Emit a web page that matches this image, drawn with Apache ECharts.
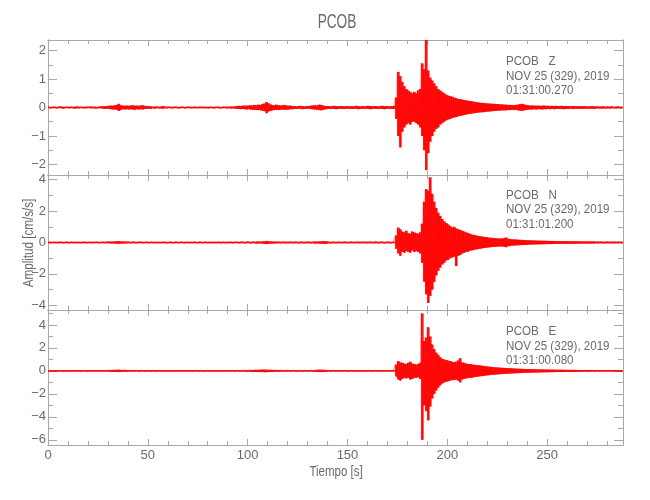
<!DOCTYPE html>
<html><head><meta charset="utf-8">
<script src="https://cdn.jsdelivr.net/npm/echarts@6/dist/echarts.min.js"></script>
<style>html,body{margin:0;padding:0;background:#fff}#c{width:650px;height:500px}</style>
</head><body><div id="c"></div>
<script>
// Time bins: 1 s each, starting at 0 s. For each bin: max (up) and min (down) of the trace.
const binStart = 0;
const binWidth = 1;
const xRange = [0, 288];

// Z component (cm/s/s)
const zUp = [
.03,.02,.03,.03,.02,.03,.04,.03,.02,.03,
.03,.03,.02,.03,.04,.03,.03,.02,.03,.03,
.03,.04,.03,.03,.02,.03,.04,.05,.04,.05,
.06,.07,.06,.08,.09,.13,.08,.07,.06,.07,
.06,.07,.08,.06,.07,.06,.07,.08,.06,.05,
.05,.04,.03,.03,.04,.03,.03,.05,.04,.03,
.03,.02,.03,.03,.03,.02,.03,.03,.02,.03,
.03,.03,.02,.03,.03,.02,.03,.03,.03,.02,
.03,.03,.02,.03,.03,.03,.02,.03,.03,.03,
.03,.03,.04,.03,.05,.06,.05,.06,.07,.06,
.07,.08,.07,.09,.08,.10,.09,.12,.14,.19,
.15,.11,.09,.08,.10,.08,.07,.08,.09,.07,
.06,.07,.05,.05,.04,.05,.06,.05,.04,.05,
.05,.06,.07,.08,.07,.09,.10,.08,.06,.05,
.05,.04,.05,.06,.05,.04,.05,.05,.04,.05,
.05,.04,.05,.04,.06,.05,.04,.05,.04,.05,
.06,.05,.04,.05,.05,.04,.05,.06,.05,.05,
.05,.04,.05,.06,.35,1.25,1.1,.9,.75,.65,
.6,.55,.5,.55,.5,.6,.65,1.55,1.35,2.45,
1.3,1.05,.95,.85,.75,.65,.6,.55,.5,.45,
.42,.4,.38,.35,.33,.3,.3,.28,.26,.25,
.24,.22,.22,.2,.19,.18,.17,.16,.16,.15,
.14,.14,.13,.13,.12,.12,.11,.11,.1,.1,
.09,.09,.09,.08,.09,.1,.12,.13,.11,.09,
.08,.07,.07,.07,.06,.07,.06,.06,.07,.06,
.06,.05,.06,.05,.06,.05,.05,.06,.05,.05,
.05,.05,.04,.05,.05,.04,.05,.04,.05,.04,
.04,.04,.05,.04,.04,.04,.03,.04,.04,.03,
.04,.03,.04,.03,.03,.04,.03,.03];
const zDown = [
-.03,-.03,-.02,-.03,-.03,-.02,-.03,-.04,-.03,-.02,
-.03,-.02,-.03,-.04,-.03,-.03,-.02,-.03,-.03,-.03,
-.02,-.03,-.03,-.04,-.03,-.03,-.03,-.04,-.05,-.04,
-.05,-.06,-.07,-.07,-.08,-.12,-.09,-.06,-.07,-.06,
-.07,-.06,-.07,-.08,-.06,-.07,-.06,-.07,-.05,-.05,
-.04,-.05,-.03,-.04,-.03,-.03,-.04,-.04,-.03,-.03,
-.02,-.03,-.03,-.02,-.03,-.03,-.03,-.02,-.03,-.03,
-.02,-.03,-.03,-.03,-.02,-.03,-.03,-.02,-.03,-.03,
-.03,-.02,-.03,-.03,-.02,-.03,-.03,-.03,-.02,-.03,
-.03,-.04,-.03,-.04,-.05,-.05,-.06,-.05,-.06,-.07,
-.06,-.07,-.08,-.08,-.09,-.09,-.1,-.11,-.13,-.2,
-.14,-.12,-.1,-.09,-.08,-.09,-.08,-.07,-.08,-.08,
-.07,-.06,-.06,-.05,-.05,-.04,-.05,-.06,-.05,-.04,
-.05,-.05,-.06,-.07,-.08,-.08,-.1,-.09,-.07,-.06,
-.05,-.05,-.04,-.05,-.06,-.05,-.04,-.05,-.05,-.04,
-.04,-.05,-.05,-.05,-.04,-.06,-.05,-.04,-.05,-.04,
-.05,-.06,-.05,-.04,-.05,-.05,-.04,-.05,-.06,-.05,
-.04,-.05,-.05,-.05,-.4,-1.0,-1.4,-.85,-.7,-.6,
-.55,-.6,-.5,-.5,-.55,-.6,-.7,-1.0,-1.5,-2.2,
-1.6,-1.2,-1.0,-.85,-.75,-.7,-.6,-.55,-.5,-.45,
-.42,-.4,-.37,-.35,-.33,-.31,-.29,-.28,-.26,-.25,
-.23,-.22,-.21,-.2,-.19,-.18,-.17,-.17,-.16,-.15,
-.14,-.14,-.13,-.12,-.12,-.11,-.11,-.1,-.1,-.1,
-.09,-.09,-.08,-.09,-.08,-.1,-.11,-.12,-.1,-.09,
-.08,-.07,-.07,-.06,-.07,-.06,-.06,-.07,-.06,-.06,
-.05,-.06,-.05,-.06,-.05,-.05,-.05,-.05,-.06,-.05,
-.05,-.04,-.05,-.05,-.04,-.05,-.04,-.05,-.04,-.04,
-.04,-.04,-.04,-.05,-.04,-.03,-.04,-.04,-.03,-.04,
-.03,-.04,-.03,-.03,-.04,-.03,-.03,-.03];

// N component
const nUp = [
.04,.05,.04,.04,.05,.04,.05,.04,.04,.05,
.04,.05,.04,.05,.04,.04,.05,.04,.05,.04,
.05,.04,.05,.04,.05,.05,.04,.05,.05,.06,
.06,.07,.06,.07,.08,.09,.07,.06,.07,.06,
.06,.05,.06,.05,.05,.06,.05,.04,.05,.05,
.04,.05,.04,.05,.04,.04,.05,.04,.05,.04,
.04,.05,.04,.04,.05,.04,.05,.04,.04,.05,
.04,.05,.04,.05,.04,.04,.05,.04,.05,.04,
.05,.04,.04,.05,.04,.05,.04,.05,.04,.05,
.04,.05,.04,.05,.05,.04,.05,.06,.05,.05,
.06,.05,.06,.05,.06,.07,.06,.07,.08,.1,
.08,.07,.06,.07,.06,.06,.05,.06,.05,.06,
.05,.06,.05,.06,.05,.05,.06,.05,.06,.05,
.06,.05,.06,.06,.07,.06,.07,.08,.09,.07,
.06,.05,.06,.05,.05,.06,.05,.05,.06,.05,
.05,.06,.05,.05,.06,.05,.06,.05,.05,.06,
.05,.06,.05,.05,.06,.05,.05,.06,.05,.05,
.06,.05,.05,.06,.45,.95,.85,.7,.65,.75,
.6,.55,.7,.65,.6,.55,.65,1.2,2.6,3.4,
3.3,4.15,3.1,2.6,2.2,1.9,1.7,1.5,1.35,1.25,
1.15,1.05,.95,1.0,.9,.85,.8,.75,.7,.65,
.6,.55,.5,.48,.45,.42,.4,.38,.36,.34,
.32,.3,.3,.28,.27,.26,.25,.26,.28,.32,
.25,.22,.2,.2,.19,.18,.17,.17,.16,.15,
.14,.14,.13,.13,.12,.12,.12,.11,.11,.11,
.1,.1,.1,.1,.09,.09,.09,.09,.09,.08,
.08,.08,.08,.08,.08,.08,.07,.07,.07,.07,
.07,.07,.07,.07,.06,.07,.06,.06,.06,.06,
.06,.06,.06,.06,.06,.05,.06,.06];
const nDown = [
-.05,-.04,-.05,-.04,-.04,-.05,-.04,-.05,-.05,-.04,
-.05,-.04,-.05,-.04,-.05,-.05,-.04,-.05,-.04,-.05,
-.04,-.05,-.04,-.05,-.04,-.05,-.05,-.04,-.05,-.05,
-.06,-.06,-.07,-.07,-.08,-.08,-.07,-.07,-.06,-.06,
-.05,-.06,-.05,-.06,-.05,-.05,-.04,-.05,-.05,-.04,
-.05,-.04,-.05,-.04,-.05,-.05,-.04,-.05,-.04,-.05,
-.05,-.04,-.05,-.05,-.04,-.05,-.04,-.04,-.05,-.04,
-.05,-.04,-.05,-.04,-.05,-.05,-.04,-.05,-.04,-.05,
-.04,-.05,-.05,-.04,-.05,-.04,-.05,-.04,-.05,-.04,
-.05,-.04,-.05,-.04,-.04,-.05,-.05,-.05,-.06,-.05,
-.05,-.06,-.05,-.06,-.07,-.06,-.07,-.07,-.09,-.1,
-.08,-.07,-.07,-.06,-.06,-.05,-.06,-.05,-.06,-.05,
-.06,-.05,-.05,-.06,-.05,-.06,-.05,-.06,-.05,-.06,
-.05,-.06,-.05,-.07,-.06,-.07,-.08,-.07,-.09,-.08,
-.06,-.06,-.05,-.06,-.05,-.05,-.06,-.05,-.05,-.06,
-.05,-.05,-.06,-.05,-.05,-.06,-.05,-.05,-.06,-.05,
-.06,-.05,-.05,-.06,-.05,-.06,-.05,-.05,-.06,-.05,
-.05,-.06,-.05,-.05,-.4,-.7,-.85,-.6,-.65,-.55,
-.6,-.65,-.5,-.6,-.55,-.6,-.7,-1.3,-2.5,-3.3,
-3.85,-3.4,-3.0,-2.5,-2.1,-1.8,-1.6,-1.4,-1.3,-1.15,
-1.1,-1.0,-.95,-.9,-1.5,-.85,-.8,-.7,-.65,-.6,
-.58,-.52,-.5,-.46,-.44,-.42,-.4,-.37,-.35,-.33,
-.32,-.3,-.29,-.28,-.27,-.26,-.25,-.25,-.27,-.3,
-.24,-.22,-.2,-.19,-.18,-.18,-.17,-.16,-.16,-.15,
-.14,-.13,-.13,-.12,-.12,-.12,-.11,-.11,-.11,-.1,
-.1,-.1,-.1,-.09,-.09,-.09,-.09,-.08,-.09,-.08,
-.08,-.08,-.08,-.08,-.07,-.08,-.07,-.07,-.07,-.07,
-.07,-.07,-.06,-.07,-.06,-.06,-.06,-.06,-.06,-.06,
-.06,-.05,-.06,-.06,-.05,-.06,-.05,-.06];

// E component
const eUp = [
.05,.06,.05,.05,.06,.05,.05,.06,.05,.05,
.06,.05,.05,.06,.05,.06,.05,.05,.06,.05,
.05,.06,.05,.06,.05,.06,.07,.06,.07,.08,
.08,.09,.08,.1,.09,.11,.09,.08,.09,.08,
.07,.08,.07,.06,.07,.06,.06,.07,.06,.05,
.06,.05,.06,.05,.05,.06,.05,.06,.05,.05,
.06,.05,.05,.06,.05,.05,.06,.05,.05,.06,
.05,.06,.05,.05,.06,.05,.06,.05,.05,.06,
.05,.05,.06,.05,.06,.05,.05,.06,.05,.05,
.06,.05,.06,.05,.06,.06,.07,.06,.07,.08,
.08,.09,.08,.09,.1,.09,.1,.11,.12,.11,
.1,.09,.1,.08,.09,.08,.07,.08,.07,.06,
.07,.06,.06,.07,.06,.06,.07,.06,.07,.06,
.07,.08,.07,.08,.09,.1,.11,.1,.09,.08,
.07,.06,.07,.06,.06,.07,.06,.06,.07,.06,
.06,.07,.06,.06,.07,.06,.06,.07,.06,.06,
.07,.06,.06,.07,.06,.06,.07,.06,.06,.07,
.06,.07,.06,.07,.55,.85,.75,.7,.65,.6,
.7,.8,.65,.6,.55,.6,.7,5.0,2.6,2.9,
3.8,3.0,2.3,1.9,1.6,1.4,1.2,1.05,1.0,.95,
.9,.85,.8,.75,.8,.9,1.1,.75,.7,.65,
.6,.6,.55,.55,.5,.5,.48,.45,.42,.4,
.38,.36,.34,.32,.3,.3,.28,.27,.26,.25,
.24,.23,.22,.21,.2,.19,.18,.18,.17,.16,
.16,.15,.15,.14,.14,.13,.13,.13,.12,.12,
.12,.11,.11,.11,.1,.1,.1,.1,.1,.09,
.09,.09,.09,.09,.09,.08,.08,.08,.08,.08,
.08,.08,.08,.07,.08,.07,.07,.07,.07,.07,
.07,.07,.07,.06,.07,.06,.07,.06];
const eDown = [
-.06,-.05,-.05,-.06,-.05,-.06,-.05,-.05,-.06,-.05,
-.05,-.06,-.05,-.05,-.06,-.05,-.06,-.05,-.05,-.06,
-.05,-.05,-.06,-.05,-.06,-.05,-.06,-.07,-.06,-.07,
-.08,-.08,-.09,-.09,-.1,-.1,-.09,-.09,-.08,-.08,
-.07,-.07,-.06,-.07,-.06,-.07,-.06,-.06,-.05,-.06,
-.05,-.06,-.05,-.06,-.06,-.05,-.06,-.05,-.06,-.05,
-.05,-.06,-.05,-.05,-.06,-.05,-.05,-.06,-.05,-.05,
-.06,-.05,-.06,-.05,-.05,-.06,-.05,-.05,-.06,-.05,
-.06,-.05,-.05,-.06,-.05,-.05,-.06,-.05,-.06,-.05,
-.05,-.06,-.05,-.06,-.06,-.07,-.06,-.07,-.07,-.08,
-.08,-.08,-.09,-.09,-.1,-.1,-.11,-.1,-.12,-.11,
-.1,-.1,-.09,-.09,-.08,-.08,-.08,-.07,-.07,-.07,
-.06,-.07,-.06,-.06,-.07,-.06,-.06,-.07,-.06,-.06,
-.07,-.07,-.08,-.08,-.09,-.1,-.1,-.1,-.09,-.08,
-.07,-.07,-.06,-.07,-.06,-.06,-.07,-.06,-.06,-.07,
-.06,-.06,-.07,-.06,-.06,-.07,-.06,-.06,-.07,-.06,
-.06,-.07,-.06,-.06,-.07,-.06,-.06,-.07,-.06,-.06,
-.07,-.06,-.07,-.06,-.5,-.75,-.85,-.7,-.6,-.65,
-.6,-.75,-.7,-.6,-.6,-.55,-.7,-6.0,-3.0,-3.5,
-4.3,-3.1,-2.4,-2.0,-1.7,-1.45,-1.25,-1.1,-1.0,-.95,
-.9,-.85,-.8,-.8,-.75,-.85,-1.0,-.75,-.7,-.65,
-.62,-.6,-.58,-.55,-.52,-.5,-.47,-.45,-.43,-.4,
-.38,-.36,-.34,-.33,-.31,-.3,-.29,-.27,-.26,-.25,
-.24,-.23,-.22,-.21,-.2,-.2,-.19,-.18,-.17,-.17,
-.16,-.15,-.15,-.14,-.14,-.14,-.13,-.13,-.12,-.12,
-.12,-.11,-.11,-.11,-.1,-.1,-.1,-.1,-.1,-.09,
-.09,-.09,-.09,-.09,-.09,-.08,-.08,-.08,-.08,-.08,
-.08,-.08,-.07,-.08,-.07,-.07,-.07,-.07,-.07,-.07,
-.07,-.07,-.06,-.07,-.06,-.07,-.06,-.07];

// Axis ranges and ticks
const yRangeZ = [-2.37, 2.37];
const yRangeN = [-4.3, 4.3];
const yRangeE = [-6.45, 5.3];
const xMajorTicks = [0, 50, 100, 150, 200, 250];
const xMinorTicks = [10,20,30,40,60,70,80,90,110,120,130,140,160,170,180,190,210,220,230,240,260,270,280];
const yMajorZ = [-2, -1, 0, 1, 2];
const yMinorZ = [-1.5, -0.5, 0.5, 1.5];
const yMajorN = [-4, -2, 0, 2, 4];
const yMinorN = [-3, -1, 1, 3];
const yMajorE = [-6, -4, -2, 0, 2, 4];
const yMinorE = [-5, -3, -1, 1, 3, 5];

const stationName = 'PCOB';
const channels = ['Z', 'N', 'E'];
const dateText = 'NOV 25 (329), 2019';
const startTimes = ['01:31:00.270', '01:31:01.200', '01:31:00.080'];
const yTitle = 'Amplitud [cm/s/s]';
const xTitle = 'Tiempo [s]';

const FONT = "'Liberation Sans', Arial, sans-serif";
const TXT = '#6a6a6a';
const AX = '#a8a8a8';
const RED = '#ff0000';

// zig-zag trace: max then min in each bin
function trace(up, down) {
  const d = [];
  for (let i = 0; i < up.length; i++) {
    const t = binStart + i * binWidth;
    d.push([t, up[i]]);
    d.push([t + binWidth / 2, down[i]]);
  }
  return d;
}
const minus = v => (v < 0 ? '\u2212' + Math.abs(v) : String(v));

// one filled min–max rectangle per time bin, positioned through the axes
function renderBin(params, api) {
  const t = api.value(0), hi = api.value(1), lo = api.value(2);
  const p1 = api.coord([t, hi]);
  const p2 = api.coord([t + binWidth, lo]);
  const cs = params.coordSys;
  let h = p2[1] - p1[1];
  let y = p1[1];
  if (h < 1.6) { y -= (1.6 - h) / 2; h = 1.6; }
  const r = echarts.graphic.clipRectByRect(
    { x: p1[0] - 0.3, y: y, width: p2[0] - p1[0] + 0.6, height: h },
    { x: cs.x, y: cs.y, width: cs.width, height: cs.height });
  return r ? { type: 'rect', shape: r, style: { fill: RED, opacity: 0.92 } } : null;
}

const gridTops = [40, 175, 310];
const gridH = 135;
const yRanges = [yRangeZ, yRangeN, yRangeE];
const yMajors = [yMajorZ, yMajorN, yMajorE];
const yMinors = [yMinorZ, yMinorN, yMinorE];
const ups = [zUp, nUp, eUp];
const downs = [zDown, nDown, eDown];

const grid = [], xAxis = [], yAxis = [], series = [];
gridTops.forEach((top, g) => {
  grid.push({ left: 48, right: 27, top: top, height: gridH, show: false });
  const xBase = { type: 'value', gridIndex: g, min: xRange[0], max: xRange[1], splitLine: { show: false }, axisLine: { show: true, onZero: false, lineStyle: { color: AX, width: 1 } } };
  xAxis.push(Object.assign({}, xBase, { position: 'bottom',
    axisTick: { show: true, inside: true, length: 6, customValues: xMajorTicks, lineStyle: { color: AX } },
    axisLabel: { show: g === 2, customValues: xMajorTicks, color: TXT, fontFamily: FONT, fontSize: 13, margin: 4 } }));
  xAxis.push(Object.assign({}, xBase, { position: 'bottom',
    axisTick: { show: true, inside: true, length: 4, customValues: xMinorTicks, lineStyle: { color: AX } },
    axisLabel: { show: false } }));
  xAxis.push(Object.assign({}, xBase, { position: 'top',
    axisTick: { show: true, inside: true, length: 6, customValues: xMajorTicks, lineStyle: { color: AX } },
    axisLabel: { show: false } }));
  xAxis.push(Object.assign({}, xBase, { position: 'top',
    axisTick: { show: true, inside: true, length: 4, customValues: xMinorTicks, lineStyle: { color: AX } },
    axisLabel: { show: false } }));
  const yBase = { type: 'value', gridIndex: g, min: yRanges[g][0], max: yRanges[g][1], splitLine: { show: false }, axisLine: { show: true, onZero: false, lineStyle: { color: AX, width: 1 } } };
  yAxis.push(Object.assign({}, yBase, { position: 'left',
    axisTick: { show: true, inside: true, length: 9, customValues: yMajors[g], lineStyle: { color: AX } },
    axisLabel: { show: true, customValues: yMajors[g], color: TXT, fontFamily: FONT, fontSize: 13, margin: 2, formatter: minus } }));
  yAxis.push(Object.assign({}, yBase, { position: 'left',
    axisTick: { show: true, inside: true, length: 5, customValues: yMinors[g], lineStyle: { color: AX } },
    axisLabel: { show: false } }));
  yAxis.push(Object.assign({}, yBase, { position: 'right',
    axisTick: { show: true, inside: true, length: 9, customValues: yMajors[g], lineStyle: { color: AX } },
    axisLabel: { show: false } }));
  yAxis.push(Object.assign({}, yBase, { position: 'right',
    axisTick: { show: true, inside: true, length: 5, customValues: yMinors[g], lineStyle: { color: AX } },
    axisLabel: { show: false } }));
  series.push({ type: 'custom', coordinateSystem: 'cartesian2d', xAxisIndex: g * 4, yAxisIndex: g * 4,
    data: ups[g].map((u, i) => [binStart + i * binWidth, u, downs[g][i]]),
    encode: { x: 0, y: [1, 2] }, renderItem: renderBin, animation: false, silent: true, z: 1 });
  series.push({ type: 'line', xAxisIndex: g * 4, yAxisIndex: g * 4, data: trace(ups[g], downs[g]),
    showSymbol: false, symbol: 'none', animation: false, silent: true, z: 2,
    lineStyle: { color: RED, width: 0.7, opacity: 0.7 } });
});

const annTops = [54.5, 188, 324.5];
const graphic = [
  { type: 'text', x: 337, y: 22, scaleX: 0.65, z: 100, style: { text: stationName, fill: TXT, font: '21px ' + FONT, align: 'center', verticalAlign: 'middle' } },
  { type: 'text', x: 336, y: 472, scaleX: 0.82, z: 100, style: { text: xTitle, fill: TXT, font: '14px ' + FONT, align: 'center', verticalAlign: 'middle' } },
  { type: 'text', x: 29, y: 243, rotation: Math.PI / 2, scaleX: 0.83, z: 100, style: { text: yTitle, fill: TXT, font: '14px ' + FONT, align: 'center', verticalAlign: 'middle' } }
];
channels.forEach((ch, g) => {
  graphic.push({ type: 'text', x: 506, y: annTops[g], scaleX: 0.89, z: 100, style: {
    text: stationName + '   ' + ch + '\n' + dateText + '\n' + startTimes[g],
    fill: TXT, font: '13px ' + FONT, lineHeight: 14.5, align: 'left', verticalAlign: 'top' } });
});

const chart = echarts.init(document.getElementById('c'), null, { renderer: 'canvas' });
chart.setOption({ animation: false, backgroundColor: '#fff', grid, xAxis, yAxis, series, graphic });
</script>
</body></html>
